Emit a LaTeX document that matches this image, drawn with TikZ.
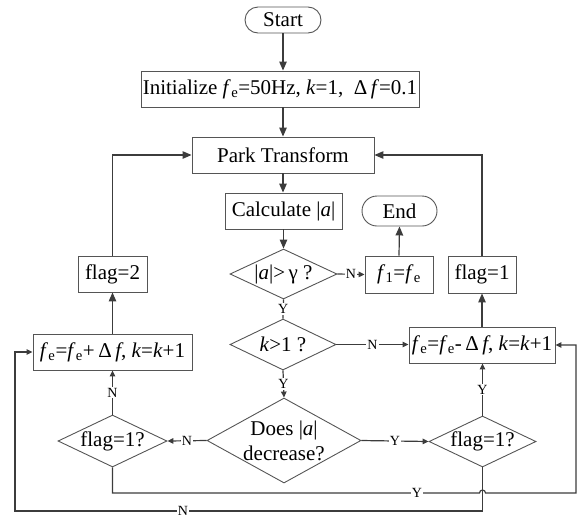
\documentclass[tikz,border=0pt]{standalone}
\usepackage{fontspec}
\setmainfont{Liberation Serif}
\usetikzlibrary{arrows.meta,shapes.geometric}
\definecolor{boxc}{HTML}{555555}
\definecolor{linec}{HTML}{3C3C3C}
\newcommand\fsub[1]{\textit{f}\kern0.3pt\textsubscript{#1}}
\begin{document}
\begin{tikzpicture}[x=1pt,y=-1pt,
  box/.style={draw=boxc, line width=0.9pt, inner sep=0pt, font=\fontsize{21}{25}\selectfont},
  pill/.style={box, rounded corners=13pt},
  dia/.style={draw=boxc, line width=0.9pt, shape=diamond, inner sep=0pt},
  txt/.style={font=\fontsize{21}{25}\selectfont, align=center, inner sep=0pt},
  conn/.style={draw=linec, line width=1.2pt},
  arr/.style={conn, -{Triangle[length=9pt,width=7.5pt]}},
  sarr/.style={conn, -{Triangle[length=6pt,width=5.5pt]}},
  lab/.style={fill=white, inner sep=1pt, font=\fontsize{14}{14}\selectfont, text=black}
]
\useasboundingbox (0,0) rectangle (577,520);

% nodes
\node[pill, minimum width=76pt, minimum height=26pt] (start) at (283,20) {Start};
\node[box, minimum width=278pt, minimum height=36pt] (init) at (280,89) {Initialize \fsub{e}=50Hz, \textit{k}=1,\ \ Δ\,\textit{f}=0.1};
\node[box, minimum width=182pt, minimum height=36pt] (park) at (283,155) {Park Transform};
\node[box, minimum width=117pt, minimum height=36pt] (calc) at (283.5,211) {Calculate |\textit{a}|};
\node[box, rounded corners=15pt, minimum width=75pt, minimum height=30pt] (end) at (399.5,211) {End};
\node[dia, minimum width=107pt, minimum height=50pt] (d1) at (283.5,274) {};
\node[txt] (d1t) at (d1) {|\textit{a}|>\,γ ?};
\node[box, minimum width=68pt, minimum height=37pt] (f1) at (399,274.5) {\fsub{1}=\fsub{e}};
\node[box, minimum width=69pt, minimum height=36pt] (flagtwo) at (112.5,274) {flag=2};
\node[box, minimum width=68pt, minimum height=37pt] (flagone) at (482,274.5) {flag=1};
\node[dia, minimum width=106pt, minimum height=51pt] (d2) at (283,344.5) {};
\node[txt] (d2t) at (d2) {\textit{k}>1 ?};
\node[box, minimum width=159pt, minimum height=36pt] (fplus) at (112.5,352) {\fsub{e}=\fsub{e}+\,Δ\,\textit{f}, \textit{k}=\textit{k}+1};
\node[box, minimum width=146pt, minimum height=36pt] (fminus) at (482,345) {\fsub{e}=\fsub{e}-\,Δ\,\textit{f}, \textit{k}=\textit{k}+1};
\node[dia, minimum width=154pt, minimum height=85pt] (d3) at (284,440.5) {};
\node[txt] (d3t) at (d3) {Does |\textit{a}|\\decrease?};
\node[dia, minimum width=109pt, minimum height=52pt] (d4) at (112.5,441) {};
\node[txt] (d4t) at (d4) {flag=1?};
\node[dia, minimum width=107pt, minimum height=51pt] (d5) at (482.5,441.5) {};
\node[txt] (d5t) at (d5) {flag=1?};

\coordinate (loopY) at (576,493);
\coordinate (loopN) at (15,511);

% connectors
\draw[arr] (start.south) -- (start.south |- init.north);
\draw[arr] (park.north |- init.south) -- (park.north);
\draw[arr] (park.south) -- (park.south |- calc.north);
\draw[arr] (calc.south) -- (d1.north);
\draw[sarr] (d1.east) -- node[lab]{N} (f1.west);
\draw[arr] (f1.north) -- (end.south);
\draw[conn] (d1.south) -- node[lab]{Y} (d2.north);
\draw[sarr] (d2.south) -- node[lab]{Y} (d3.north);
\draw[sarr] (d2.east) -- node[lab]{N} (d2.east -| fminus.west);
\draw[sarr] (d3.west) -- node[lab]{N} (d4.east);
\draw[sarr] (d3.east) -- node[lab]{Y} (d5.west);
\draw[sarr] (d4.north) -- node[lab]{N} (d4.north |- fplus.south);
\draw[sarr] (d5.north) -- node[lab]{Y} (d5.north |- fminus.south);
\draw[arr] (fplus.north -| flagtwo.south) -- (flagtwo.south);
\draw[arr] (fminus.north) -- (flagone.south);
\draw[arr] (flagtwo.north) |- (park.west);
\draw[arr] (flagone.north) |- (park.east);

\draw[sarr] (d5.south) -- (d5.south |- loopN) -- (loopN) -- (loopN |- fplus.west) -- (fplus.west);
\draw[sarr] (d4.south) -- (d4.south |- loopY) -- ([xshift=-3pt]d5.south |- loopY)
  arc[start angle=180, end angle=0, radius=3pt] -- (loopY) -- (loopY |- fminus.east) -- (fminus.east);
\node[lab] (ylab) at (417,493) {Y};
\node[lab, inner sep=0.5pt] (nlab) at (183,511) {N};
\end{tikzpicture}
\end{document}
